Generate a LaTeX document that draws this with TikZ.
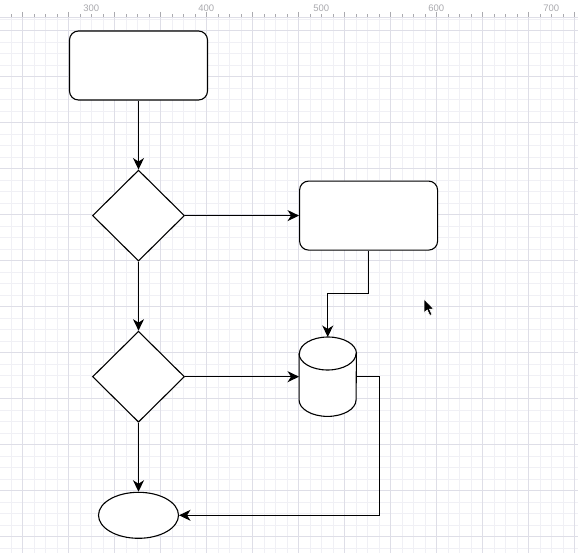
\documentclass[tikz,border=0pt]{standalone}
\usepackage{fontspec}
\setmainfont{Liberation Sans}
\usetikzlibrary{arrows.meta,positioning,shapes.geometric}
\definecolor{gridminor}{RGB}{240,240,245}
\definecolor{gridmajor}{RGB}{222,222,231}
\definecolor{rulertext}{RGB}{170,170,175}

\begin{document}
\begin{tikzpicture}[
    x=1pt, y=-1pt,
    node distance=69pt,
    box/.style={rectangle, draw, fill=white, rounded corners=9pt, line width=1.1pt, minimum width=138pt, minimum height=69pt, inner sep=0pt},
    choice/.style={diamond, draw, fill=white, line width=1.1pt, minimum width=92pt, minimum height=91pt, inner sep=0pt},
    store/.style={rectangle, minimum width=57pt, minimum height=79pt, inner sep=0pt},
    storeline/.style={draw, fill=white, line width=1.1pt},
    terminal/.style={ellipse, draw, fill=white, line width=1.1pt, minimum width=80pt, minimum height=46pt, inner sep=0pt},
    arrow/.style={-{Stealth[length=11.5pt, width=11pt, inset=3.5pt]}, line width=1.1pt},
    minorline/.style={gridminor, line width=0.8pt},
    majorline/.style={gridmajor, line width=0.9pt},
    rulertick/.style={rulertext, line width=0.7pt},
    rulerlabel/.style={anchor=north west, inner sep=0pt, text=rulertext, font=\fontsize{9.5}{10}\selectfont}
  ]
    \useasboundingbox (0,0) rectangle (578,553);
    \fill[white] (0,0) rectangle (578,553);
    % grid
    \foreach \i in {0,...,50}
      \draw[minorline] ({-0.3+11.5*\i},17) -- ({-0.3+11.5*\i},553);
    \foreach \j in {0,...,47}
      \draw[minorline] (0,{19+11.5*\j}) -- (578,{19+11.5*\j});
    \foreach \i in {0,...,12}
      \draw[majorline] ({22.7+46*\i},17) -- ({22.7+46*\i},553);
    \foreach \j in {0,...,11}
      \draw[majorline] (0,{30.5+46*\j}) -- (578,{30.5+46*\j});
    % ruler
    \fill[white] (0,0) rectangle (578,17.5);
    \draw[gridmajor, line width=0.8pt] (0,17.5) -- (578,17.5);
    \foreach \i in {0,...,50}
      \draw[rulertick] ({-0.3+11.5*\i},14.5) -- ++(0,3);
    \foreach \i in {0,...,12}
      \draw[rulertick] ({22.7+46*\i},12) -- ++(0,5.5);
    \foreach \k [evaluate=\k as \v using int(300+100*\k)] in {0,...,4}
      \node[rulerlabel] (lbl\k) at ({83.2+115*\k},4.5) {\v};

    \node[box] (start) at (138.5,65.5) {};
    \node[choice, below=of start] (check) {};
    \node[choice, below=of check] (verify) {};
    \node[terminal, below=of verify] (finish) {};
    \node[box, right=114pt of check] (task) {};
    \node[store, right=114pt of verify] (db) {};
    % cylinder body and front of the lid
    \draw[storeline] ([yshift=-16.5pt]db.north west) -- ([yshift=16.5pt]db.south west)
      arc[start angle=180, end angle=360, x radius=28.5pt, y radius=16.5pt]
      -- ([yshift=-16.5pt]db.north east)
      arc[start angle=0, end angle=180, x radius=28.5pt, y radius=16.5pt] -- cycle;
    \draw[storeline, fill=none] ([yshift=-16.5pt]db.north west)
      arc[start angle=180, end angle=360, x radius=28.5pt, y radius=16.5pt];

    \draw[arrow] (start) -- (check);
    \draw[arrow] (check) -- (task);
    \draw[arrow] (check) -- (verify);
    \draw[arrow] (verify) -- (db);
    \draw[arrow] (verify) -- (finish);
    \draw[arrow] (task.south) -- ++(0,43) -| (db.north);
    \draw[arrow] (db.east) -- ++(23,0) |- (finish.east);

    % mouse pointer
    \filldraw[fill=black, draw=white, line width=0.6pt] (424,299) -- ++(0,14) -- ++(3.2,-3) -- ++(2.6,5.5) -- ++(2.2,-1) -- ++(-2.5,-5.3) -- ++(4.3,0) -- cycle;
  \end{tikzpicture}
\end{document}
